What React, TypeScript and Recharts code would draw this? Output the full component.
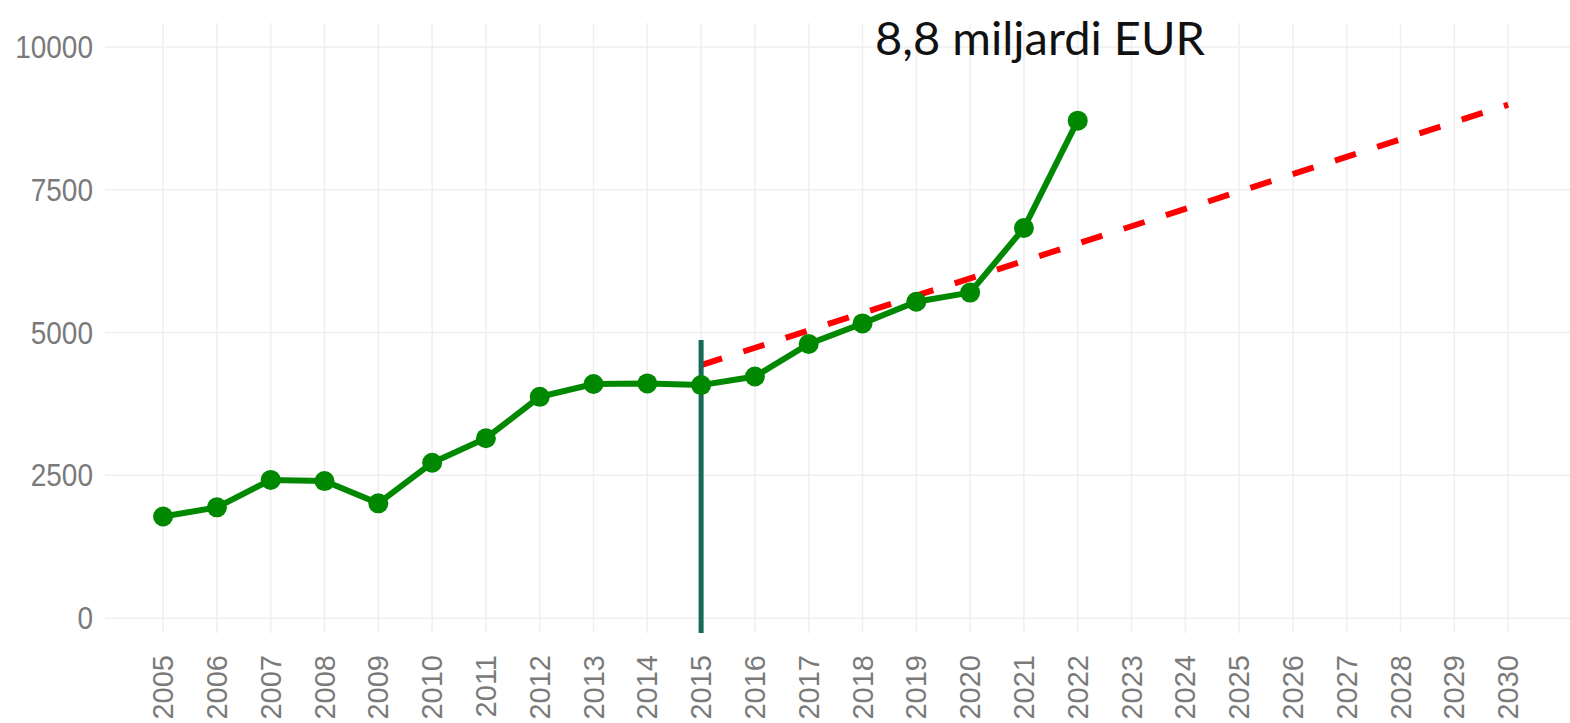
import React from 'react'
import { LineChart, Line, XAxis, YAxis, CartesianGrid, ReferenceLine } from 'recharts'

const tickYears = [
  2005, 2006, 2007, 2008, 2009, 2010, 2011, 2012, 2013, 2014, 2015, 2016, 2017,
  2018, 2019, 2020, 2021, 2022, 2023, 2024, 2025, 2026, 2027, 2028, 2029, 2030
]
const valueTicks = [0, 2500, 5000, 7500, 10000]

const actualYears = [
  2005, 2006, 2007, 2008, 2009, 2010, 2011, 2012, 2013, 2014, 2015, 2016, 2017,
  2018, 2019, 2020, 2021, 2022
]
const actualValues = [
  1780, 1940, 2420, 2400, 2010, 2720, 3150, 3875, 4100, 4110, 4080, 4230, 4800,
  5160, 5540, 5700, 6830, 8710
]

const targetYears = [2015, 2030]
const targetValues = [4430, 8990]

const markerYear = 2015
const markerFrom = -260
const markerTo = 4870

const titleText = '8,8 miljardi EUR'

const data = tickYears.map((year) => {
  const a = actualYears.indexOf(year)
  const t = targetYears.indexOf(year)
  return {
    year,
    actual: a >= 0 ? actualValues[a] : null,
    target: t >= 0 ? targetValues[t] : null
  }
})

const W = 1570
const H = 723
const labelColor = '#7a7a7a'
const labelFont = 'Liberation Sans, Arial, sans-serif'
const xDomain = [2003.92, 2031.15]
const yDomain = [-260, 10420]

function YearTick(props: any) {
  const { x, y, payload } = props
  return (
    <text
      x={x}
      y={y}
      dx={-22}
      dy='0.35em'
      transform={`rotate(-90, ${x}, ${y})`}
      textAnchor='end'
      fill={labelColor}
      fontSize={29}
      fontFamily={labelFont}
    >
      {payload.value}
    </text>
  )
}

function ValueTick(props: any) {
  const { x, y, payload } = props
  // labels in the source are a bit taller than wide
  return (
    <text
      x={x}
      y={y}
      dy='0.35em'
      transform={`translate(0, ${y}) scale(1, 1.12) translate(0, ${-y})`}
      textAnchor='end'
      fill={labelColor}
      fontSize={28}
      fontFamily={labelFont}
    >
      {payload.value}
    </text>
  )
}

// grid only at the tick values, no lines on the plot edges
const gridRows = ({ offset }: any) =>
  valueTicks.map((v) => offset.top + ((yDomain[1] - v) / (yDomain[1] - yDomain[0])) * offset.height)
const gridCols = ({ offset }: any) =>
  tickYears.map((v) => offset.left + ((v - xDomain[0]) / (xDomain[1] - xDomain[0])) * offset.width)

export default function App() {
  return (
    <div style={{ position: 'absolute', left: 0, top: 0, width: W, height: H, background: '#fff' }}>
      <LineChart
        width={W}
        height={H}
        data={data}
        margin={{ top: 23, right: 0, bottom: 0, left: 0 }}
      >
        <CartesianGrid
          stroke='#efefef'
          strokeWidth={1.5}
          horizontalCoordinatesGenerator={gridRows}
          verticalCoordinatesGenerator={gridCols}
        />
        <XAxis
          dataKey='year'
          type='number'
          domain={xDomain}
          ticks={tickYears}
          interval={0}
          axisLine={false}
          tickLine={false}
          tickSize={0}
          tickMargin={0}
          height={90}
          tick={<YearTick />}
        />
        <YAxis
          type='number'
          domain={yDomain}
          ticks={valueTicks}
          axisLine={false}
          tickLine={false}
          tickSize={0}
          tickMargin={12}
          width={105}
          tick={<ValueTick />}
        />
        <Line
          dataKey='actual'
          stroke='#008800'
          strokeWidth={6}
          dot={{ r: 10, fill: '#008800', stroke: 'none' }}
          activeDot={false}
          isAnimationActive={false}
        />
        <Line
          dataKey='target'
          stroke='#ff0000'
          strokeWidth={6}
          strokeDasharray='22 22.4'
          strokeLinecap='butt'
          dot={false}
          activeDot={false}
          connectNulls
          isAnimationActive={false}
        />
        <ReferenceLine
          segment={[
            { x: markerYear, y: markerFrom },
            { x: markerYear, y: markerTo }
          ]}
          stroke='#17695a'
          strokeWidth={5}
        />
      </LineChart>
      <svg width={W} height={H} style={{ position: 'absolute', left: 0, top: 0, pointerEvents: 'none' }}>
        <text x={1040} y={55} textAnchor='middle' fontSize={47} fontFamily='Lato, sans-serif' fill='#111'>
          {titleText}
        </text>
      </svg>
    </div>
  )
}
